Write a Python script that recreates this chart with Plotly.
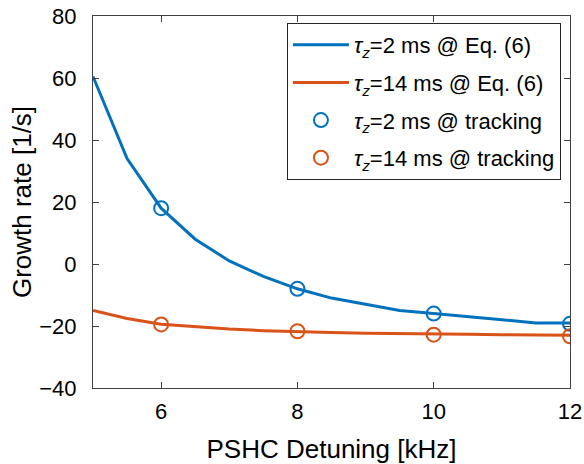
import plotly.graph_objects as go

# Eq. (6) curves
x_eq = [5, 5.5, 6, 6.5, 7, 7.5, 8, 8.5, 9, 9.5, 10, 10.5, 11, 11.5, 12]
y_eq_2ms = [60.5, 34, 18, 8, 1, -4, -8, -11, -13, -15, -16, -17, -18, -19, -19]
y_eq_14ms = [-15, -17.6, -19.4, -20.3, -21, -21.5, -21.9, -22.1, -22.3, -22.5, -22.6, -22.7, -22.8, -22.9, -23]

# tracking points
x_tr = [6, 8, 10, 12]
y_tr_2ms = [18, -8, -16, -19.3]
y_tr_14ms = [-19.5, -21.7, -22.8, -23.3]

blue = "#0072BD"
orange = "#D95319"
font = "Liberation Sans, Arial, sans-serif"

fig = go.Figure()
fig.add_trace(go.Scatter(x=x_eq, y=y_eq_2ms, mode="lines", line=dict(color=blue, width=3),
                         name="<i>τ<sub>z</sub></i>=2 ms @ Eq. (6)", legendgroup="a"))
fig.add_trace(go.Scatter(x=x_eq, y=y_eq_14ms, mode="lines", line=dict(color=orange, width=3),
                         name="<i>τ<sub>z</sub></i>=14 ms @ Eq. (6)", legendgroup="b"))
fig.add_trace(go.Scatter(x=x_tr, y=y_tr_2ms, mode="markers",
                         marker=dict(symbol="circle-open", size=14, color=blue, line=dict(width=2)),
                         name="<i>τ<sub>z</sub></i>=2 ms @ tracking", legendgroup="c"))
fig.add_trace(go.Scatter(x=x_tr, y=y_tr_14ms, mode="markers",
                         marker=dict(symbol="circle-open", size=14, color=orange, line=dict(width=2)),
                         name="<i>τ<sub>z</sub></i>=14 ms @ tracking", legendgroup="d"))

axis_common = dict(showline=True, linecolor="#404040", linewidth=1, mirror="ticks",
                   ticks="inside", ticklen=6, tickcolor="#404040", showgrid=False, zeroline=False,
                   automargin=False, ticklabeloverflow="allow",
                   tickfont=dict(family=font, size=22, color="#000"))

fig.update_layout(
    width=584, height=464,
    margin=dict(l=93, r=14, t=16, b=76),
    paper_bgcolor="white", plot_bgcolor="white",
    xaxis=dict(range=[5, 12], tickvals=[6, 8, 10, 12], ticklabelstandoff=4, **axis_common,
               title=dict(text="PSHC Detuning [kHz]", font=dict(family=font, size=26, color="#000"), standoff=20)),
    yaxis=dict(range=[-40, 80], tickvals=[-40, -20, 0, 20, 40, 60, 80],
               ticktext=["\u221240", "\u221220", "0", "20", "40", "60", "80"], ticklabelstandoff=11,
               **axis_common,
               title=dict(text="Growth rate [1/s]", font=dict(family=font, size=26, color="#000"), standoff=0)),
    legend=dict(x=0.981, y=0.981, xanchor="right", yanchor="top",
                bordercolor="#262626", borderwidth=1, bgcolor="white", itemwidth=56,
                font=dict(family=font, size=22, color="#000"), tracegroupgap=6),
    showlegend=True,
)

fig.write_html("out.html", config={"displayModeBar": False},
               post_script="document.body.style.margin='0';document.body.style.overflow='hidden';")
